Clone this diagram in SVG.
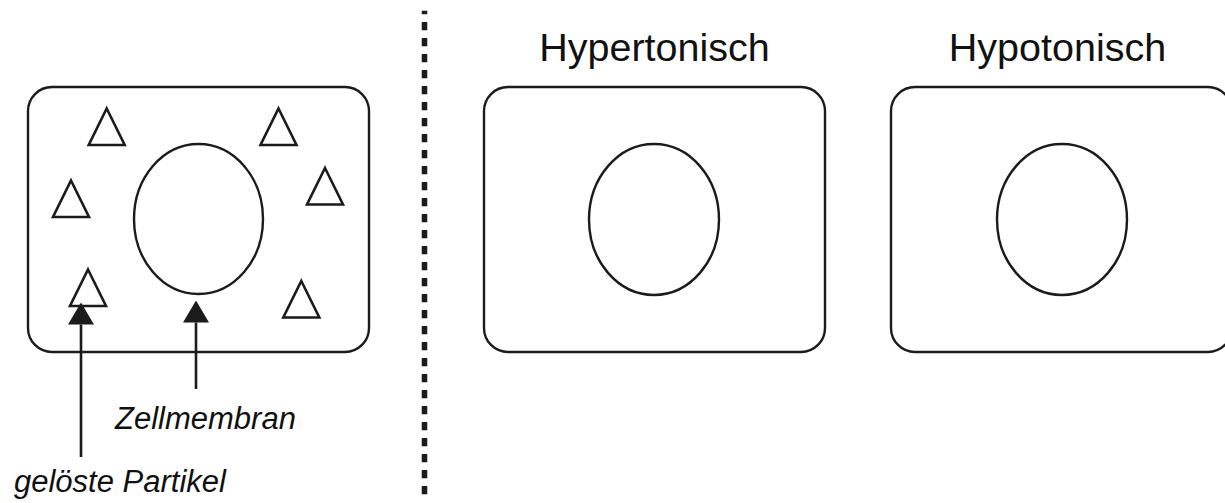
<svg xmlns="http://www.w3.org/2000/svg" width="1225" height="503" viewBox="0 0 1225 503">
  <style>
    .cell { fill: #ffffff; stroke: #1b1b1b; stroke-width: 2.4; }
    .membrane { fill: none; stroke: #1b1b1b; stroke-width: 2.4; }
    .particle { fill: #ffffff; stroke: #1b1b1b; stroke-width: 2.6; stroke-linejoin: miter; }
    .pointer { stroke: #1b1b1b; stroke-width: 2.6; fill: none; }
    .label { font-family: "Liberation Sans", Arial, sans-serif; font-style: italic; font-size: 31px; fill: #111111; }
    .title { font-family: "Liberation Sans", Arial, sans-serif; font-size: 39.5px; fill: #111111; text-anchor: middle; }
    .divider { stroke: #1b1b1b; stroke-width: 5.5; stroke-dasharray: 8.3 7.7; }
  </style>
  <defs>
    <marker id="head" viewBox="0 0 22 26" refX="0" refY="13" markerWidth="22" markerHeight="26" markerUnits="userSpaceOnUse" orient="auto">
      <path d="M0,0 L22,13 L0,26 Z" fill="#1b1b1b"/>
    </marker>
    <path id="tri" d="M0,0 L18,36.5 L-18,36.5 Z"/>
  </defs>

  <rect width="1225" height="503" fill="#ffffff"/>

  <!-- isotonic reference cell with solute particles -->
  <g id="cell-isotonic">
    <rect class="cell" x="28" y="87" width="341" height="265" rx="24" ry="24"/>
    <ellipse class="membrane" cx="198.5" cy="219" rx="64.5" ry="75"/>
    <use href="#tri" class="particle" x="106.7" y="108.5"/>
    <use href="#tri" class="particle" x="278.5" y="108.5"/>
    <use href="#tri" class="particle" x="71" y="180.5"/>
    <use href="#tri" class="particle" x="325" y="168"/>
    <use href="#tri" class="particle" x="88" y="269.5"/>
    <use href="#tri" class="particle" x="301.3" y="281"/>
  </g>

  <!-- divider between example and exercise -->
  <g id="divider">
    <line class="divider" x1="424.5" y1="10.7" x2="424.5" y2="498" stroke-dashoffset="4.7"/>
  </g>

  <!-- hypertonic cell -->
  <g id="cell-hypertonic">
    <text class="title" x="654.5" y="60.5">Hypertonisch</text>
    <rect class="cell" x="484" y="87" width="341" height="265" rx="24" ry="24"/>
    <ellipse class="membrane" cx="654" cy="219.5" rx="65" ry="75.5"/>
  </g>

  <!-- hypotonic cell -->
  <g id="cell-hypotonic">
    <text class="title" x="1057.5" y="60.5">Hypotonisch</text>
    <rect class="cell" x="891" y="87" width="341" height="265" rx="24" ry="24"/>
    <ellipse class="membrane" cx="1062" cy="219.5" rx="65" ry="75.5"/>
  </g>

  <!-- label pointers -->
  <g id="connectors">
    <line class="pointer" x1="81" y1="457" x2="81" y2="324.5" marker-end="url(#head)"/>
    <line class="pointer" x1="196" y1="389" x2="196" y2="322.5" marker-end="url(#head)"/>
  </g>

  <g id="label-membrane">
    <text class="label" x="115" y="429">Zellmembran</text>
  </g>
  <g id="label-particles">
    <text class="label" x="14" y="491.5">gelöste Partikel</text>
  </g>
</svg>
